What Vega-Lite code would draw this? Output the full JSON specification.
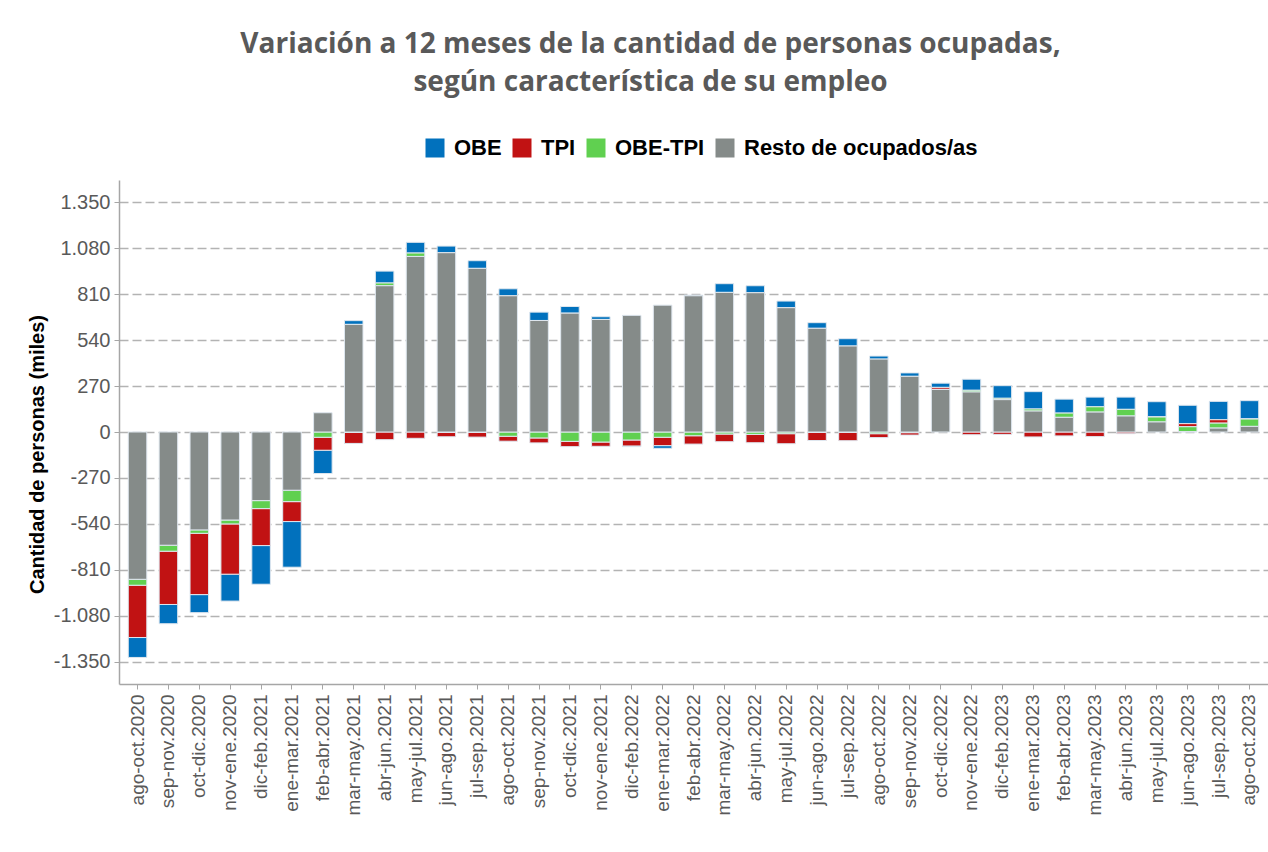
{
  "$schema": "https://vega.github.io/schema/vega-lite/v6.json",
  "width": 1149,
  "height": 504,
  "autosize": {"type": "none"},
  "padding": {"left": 119, "top": 180, "right": 0, "bottom": 168},
  "background": "white",
  "config": {
    "locale": {"number": {"decimal": ",", "thousands": ".", "grouping": [3], "currency": ["$", ""], "minus": "-"}},
    "view": {"stroke": null},
    "font": "Liberation Sans"
  },
  "title": {
    "text": ["Variación a 12 meses de la cantidad de personas ocupadas,", "según característica de su empleo"],
    "font": "Open Sans",
    "fontSize": 28,
    "fontWeight": "bold",
    "color": "#595959",
    "lineHeight": 38,
    "anchor": "middle",
    "frame": "group",
    "dx": -43,
    "offset": 40
  },
  "data": {
    "values": [
      {"periodo": "ago-oct.2020", "OBE": -117, "TPI": -307, "OBE-TPI": -35, "Resto de ocupados/as": -865},
      {"periodo": "sep-nov.2020", "OBE": -113, "TPI": -313, "OBE-TPI": -35, "Resto de ocupados/as": -665},
      {"periodo": "oct-dic.2020", "OBE": -106, "TPI": -360, "OBE-TPI": -20, "Resto de ocupados/as": -575},
      {"periodo": "nov-ene.2020", "OBE": -158, "TPI": -295, "OBE-TPI": -23, "Resto de ocupados/as": -517},
      {"periodo": "dic-feb.2021", "OBE": -227, "TPI": -217, "OBE-TPI": -47, "Resto de ocupados/as": -403},
      {"periodo": "ene-mar.2021", "OBE": -268, "TPI": -117, "OBE-TPI": -67, "Resto de ocupados/as": -342},
      {"periodo": "feb-abr.2021", "OBE": -137, "TPI": -76, "OBE-TPI": -31, "Resto de ocupados/as": 113},
      {"periodo": "mar-may.2021", "OBE": 22, "TPI": -65, "OBE-TPI": -2, "Resto de ocupados/as": 632},
      {"periodo": "abr-jun.2021", "OBE": 70, "TPI": -45, "OBE-TPI": 16, "Resto de ocupados/as": 859},
      {"periodo": "may-jul.2021", "OBE": 63, "TPI": -37, "OBE-TPI": 20, "Resto de ocupados/as": 1031},
      {"periodo": "jun-ago.2021", "OBE": 39, "TPI": -25, "OBE-TPI": -3, "Resto de ocupados/as": 1053},
      {"periodo": "jul-sep.2021", "OBE": 45, "TPI": -27, "OBE-TPI": -3, "Resto de ocupados/as": 961},
      {"periodo": "ago-oct.2021", "OBE": 41, "TPI": -29, "OBE-TPI": -25, "Resto de ocupados/as": 800},
      {"periodo": "sep-nov.2021", "OBE": 49, "TPI": -29, "OBE-TPI": -35, "Resto de ocupados/as": 655},
      {"periodo": "oct-dic.2021", "OBE": 39, "TPI": -31, "OBE-TPI": -55, "Resto de ocupados/as": 698},
      {"periodo": "nov-ene.2021", "OBE": 16, "TPI": -25, "OBE-TPI": -59, "Resto de ocupados/as": 661},
      {"periodo": "dic-feb.2022", "OBE": -4, "TPI": -35, "OBE-TPI": -47, "Resto de ocupados/as": 685},
      {"periodo": "ene-mar.2022", "OBE": -16, "TPI": -49, "OBE-TPI": -31, "Resto de ocupados/as": 745},
      {"periodo": "feb-abr.2022", "OBE": 4, "TPI": -49, "OBE-TPI": -22, "Resto de ocupados/as": 800},
      {"periodo": "mar-may.2022", "OBE": 51, "TPI": -45, "OBE-TPI": -12, "Resto de ocupados/as": 820},
      {"periodo": "abr-jun.2022", "OBE": 41, "TPI": -49, "OBE-TPI": -14, "Resto de ocupados/as": 818},
      {"periodo": "may-jul.2022", "OBE": 39, "TPI": -59, "OBE-TPI": -10, "Resto de ocupados/as": 730},
      {"periodo": "jun-ago.2022", "OBE": 33, "TPI": -47, "OBE-TPI": -3, "Resto de ocupados/as": 609},
      {"periodo": "jul-sep.2022", "OBE": 43, "TPI": -49, "OBE-TPI": -2, "Resto de ocupados/as": 505},
      {"periodo": "ago-oct.2022", "OBE": 18, "TPI": -23, "OBE-TPI": -10, "Resto de ocupados/as": 428},
      {"periodo": "sep-nov.2022", "OBE": 20, "TPI": -14, "OBE-TPI": -4, "Resto de ocupados/as": 327},
      {"periodo": "oct-dic.2022", "OBE": 25, "TPI": 12, "OBE-TPI": 0, "Resto de ocupados/as": 250},
      {"periodo": "nov-ene.2022", "OBE": 65, "TPI": -16, "OBE-TPI": 10, "Resto de ocupados/as": 235},
      {"periodo": "dic-feb.2023", "OBE": 74, "TPI": -14, "OBE-TPI": 8, "Resto de ocupados/as": 190},
      {"periodo": "ene-mar.2023", "OBE": 102, "TPI": -29, "OBE-TPI": 12, "Resto de ocupados/as": 123},
      {"periodo": "feb-abr.2023", "OBE": 82, "TPI": -23, "OBE-TPI": 25, "Resto de ocupados/as": 86},
      {"periodo": "mar-may.2023", "OBE": 57, "TPI": -27, "OBE-TPI": 31, "Resto de ocupados/as": 117},
      {"periodo": "abr-jun.2023", "OBE": 72, "TPI": -10, "OBE-TPI": 39, "Resto de ocupados/as": 94},
      {"periodo": "may-jul.2023", "OBE": 90, "TPI": 0, "OBE-TPI": 29, "Resto de ocupados/as": 59},
      {"periodo": "jun-ago.2023", "OBE": 108, "TPI": 18, "OBE-TPI": 29, "Resto de ocupados/as": 2},
      {"periodo": "jul-sep.2023", "OBE": 108, "TPI": 20, "OBE-TPI": 29, "Resto de ocupados/as": 23},
      {"periodo": "ago-oct.2023", "OBE": 108, "TPI": 0, "OBE-TPI": 43, "Resto de ocupados/as": 33}
    ]
  },
  "transform": [
    {"fold": ["OBE", "TPI", "OBE-TPI", "Resto de ocupados/as"], "as": ["serie", "valor"]},
    {"calculate": "indexof(['Resto de ocupados/as', 'OBE-TPI', 'TPI', 'OBE'], datum.serie)", "as": "orden"}
  ],
  "mark": {"type": "bar", "stroke": "#dfe7ef", "strokeWidth": 1},
  "encoding": {
    "x": {
      "field": "periodo",
      "type": "nominal",
      "sort": null,
      "scale": {"paddingInner": 0.4, "paddingOuter": 0.3},
      "axis": {
        "title": null,
        "labelAngle": -90,
        "labelFontSize": 19,
        "labelColor": "#595959",
        "labelPadding": 5,
        "tickColor": "#a6a6a6",
        "tickSize": 5,
        "domainColor": "#a6a6a6",
        "domainWidth": 1.5,
        "grid": false
      }
    },
    "y": {
      "field": "valor",
      "type": "quantitative",
      "stack": "zero",
      "scale": {"domain": [-1480, 1480], "nice": false, "zero": false},
      "axis": {
        "title": "Cantidad de personas (miles)",
        "titleFontSize": 20,
        "titleFontWeight": "bold",
        "titleColor": "#000000",
        "titlePadding": 6,
        "titleY": 274,
        "titleAlign": "center",
        "values": [-1350, -1080, -810, -540, -270, 0, 270, 540, 810, 1080, 1350],
        "format": ",d",
        "labelFontSize": 20,
        "labelColor": "#595959",
        "labelPadding": 4,
        "tickColor": "#a6a6a6",
        "tickSize": 5,
        "domainColor": "#a6a6a6",
        "domainWidth": 1.5,
        "grid": true,
        "gridColor": "#b3b3b3",
        "gridDash": [9, 4],
        "gridWidth": 1.5
      }
    },
    "color": {
      "field": "serie",
      "type": "nominal",
      "scale": {
        "domain": ["OBE", "TPI", "OBE-TPI", "Resto de ocupados/as"],
        "range": ["#0171bd", "#c11213", "#60d050", "#858b89"]
      },
      "legend": {
        "title": null,
        "orient": "none",
        "direction": "horizontal",
        "legendX": 305,
        "legendY": -43,
        "symbolType": "square",
        "symbolSize": 361,
        "symbolStrokeWidth": 0,
        "labelFontSize": 22,
        "labelFontWeight": "bold",
        "labelColor": "#000000",
        "labelOffset": 8,
        "labelLimit": 400,
        "columnPadding": 9
      }
    },
    "order": {"field": "orden", "type": "quantitative"}
  }
}
